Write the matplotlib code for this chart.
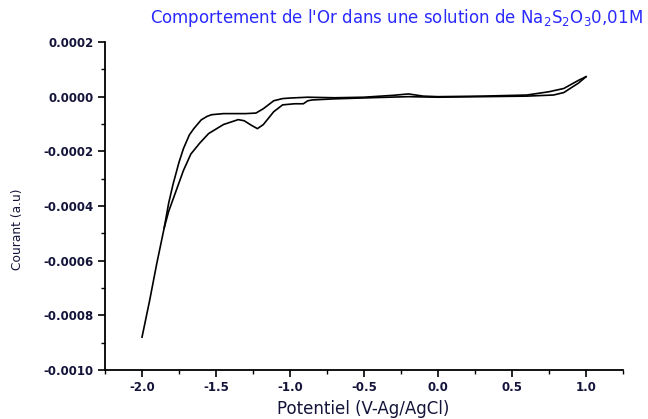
import numpy as np
import matplotlib
matplotlib.use("Agg")
import matplotlib.pyplot as plt
from matplotlib.ticker import MultipleLocator, FormatStrFormatter

# aller : branche externe (de -2.0 V vers 1.0 V)
pot_aller = [-2.00, -1.95, -1.90, -1.85, -1.82, -1.79, -1.77, -1.75, -1.72, -1.68,
             -1.65, -1.60, -1.56, -1.53, -1.45, -1.38, -1.30, -1.23, -1.18, -1.11,
             -1.05, -1.00, -0.88, -0.70, -0.50, -0.30, -0.20, -0.10, 0.00, 0.30,
             0.60, 0.75, 0.85, 0.95, 1.00]
cour_aller = [-0.00088, -0.00075, -0.00061, -0.00048, -0.00039, -0.00032, -0.00028,
              -0.00024, -0.00019, -0.00014, -0.000117, -0.000085, -0.000072,
              -0.000066, -0.000062, -0.000062, -0.000062, -0.000060, -0.000044,
              -0.000015, -0.000007, -0.000005, -0.000002, -0.000004, -0.000002,
              0.000005, 0.000010, 0.000002, 0.0, 0.000002, 0.000006, 0.000018,
              0.000030, 0.000060, 0.000073]

# retour : branche interne (de 1.0 V vers -1.85 V)
pot_retour = [1.00, 0.95, 0.85, 0.78, 0.60, 0.30, 0.00, -0.20, -0.40, -0.70,
              -0.85, -0.88, -0.91, -0.97, -1.05, -1.11, -1.18, -1.22, -1.26,
              -1.31, -1.35, -1.45, -1.55, -1.61, -1.67, -1.72, -1.76, -1.82, -1.85]
cour_retour = [0.000073, 0.000050, 0.000015, 0.000006, 0.000002, 0.0, -0.000002,
               0.0, -0.000003, -0.000008, -0.000012, -0.000015, -0.000026,
               -0.000026, -0.000030, -0.000055, -0.000102, -0.000117, -0.000105,
               -0.000088, -0.000084, -0.000102, -0.000135, -0.00017, -0.00021,
               -0.00027, -0.00033, -0.00042, -0.00048]

titre = r"Comportement de l'Or dans une solution de Na$_2$S$_2$O$_3$0,01M"
lab_x = "Potentiel (V-Ag/AgCl)"
lab_y = "Courant (a.u)"

plt.rcParams['font.family'] = ['DejaVu Sans']
tick_col = '#14143a'

fig = plt.figure(figsize=(6.48, 4.19), dpi=100)
ax = fig.add_axes([105/648, 1 - 370/419, 518/648, 328/419])

ax.plot(pot_aller, cour_aller, color='black', lw=1.2)
ax.plot(pot_retour, cour_retour, color='black', lw=1.2)

ax.set_xlim(-2.25, 1.25)
ax.set_ylim(-0.0010, 0.0002)

ax.spines['top'].set_visible(False)
ax.spines['right'].set_visible(False)
for s in ['left', 'bottom']:
    ax.spines[s].set_linewidth(1.3)

ax.xaxis.set_major_locator(MultipleLocator(0.5))
ax.xaxis.set_minor_locator(MultipleLocator(0.25))
ax.yaxis.set_major_locator(MultipleLocator(0.0002))
ax.yaxis.set_minor_locator(MultipleLocator(0.0001))
ax.xaxis.set_major_formatter(FormatStrFormatter('%.1f'))
ax.yaxis.set_major_formatter(FormatStrFormatter('%.4f'))

ax.tick_params(which='major', direction='out', length=5, width=1.2,
               labelsize=8.5, labelcolor=tick_col, pad=3)
ax.tick_params(which='minor', direction='out', length=3, width=1.0)
for lab in ax.get_xticklabels() + ax.get_yticklabels():
    lab.set_fontweight('bold')

fig.text(396/648, 1 - 18/419, titre, color='#2a2aff', fontsize=12,
         ha='center', va='center')
fig.text(363/648, 1 - 409/419, lab_x, color=tick_col, fontsize=12,
         ha='center', va='center')
fig.text(18/648, 1 - 229/419, lab_y, color=tick_col, fontsize=8.8,
         ha='center', va='center', rotation=90)

fig.savefig('out.png', dpi=100)
